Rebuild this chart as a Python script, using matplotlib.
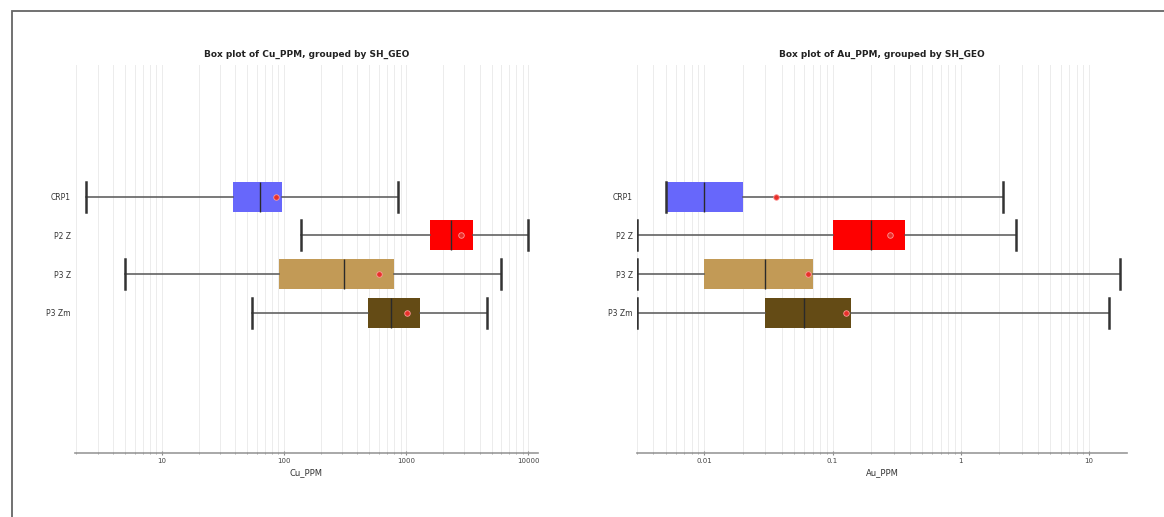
"""Box plots of Cu and Au assays grouped by geology unit (SH_GEO)."""

import matplotlib

matplotlib.use("Agg")

import matplotlib.pyplot as plt  # noqa: E402
from matplotlib.patches import Rectangle  # noqa: E402
from matplotlib.ticker import FixedLocator, LogLocator, NullFormatter  # noqa: E402

# Geology groups, top to bottom
groups = ["CRP1", "P2 Z", "P3 Z", "P3 Zm"]
colors = ["#6767fb", "#fe0000", "#c29a56", "#644b15"]

# Cu_PPM summary stats
cu_low = [2.4, 137, 5.0, 55]
cu_q1 = [38, 1560, 91, 490]
cu_med = [64, 2340, 310, 755]
cu_q3 = [97, 3520, 800, 1310]
cu_high = [860, 9900, 5950, 4600]
cu_mean = [86, 2790, 605, 1020]

# Au_PPM summary stats
au_low = [0.005, 0.003, 0.003, 0.003]
au_q1 = [0.005, 0.1, 0.01, 0.03]
au_med = [0.01, 0.2, 0.03, 0.06]
au_q3 = [0.02, 0.37, 0.07, 0.14]
au_high = [2.15, 2.7, 17.5, 14.2]
au_mean = [0.036, 0.28, 0.064, 0.128]

cu_ticks = [10, 100, 1000, 10000]
au_ticks = [0.01, 0.1, 1, 10]


def _stats(low, q1, med, q3, high, mean):
    return [
        dict(whislo=a, q1=b, med=c, q3=d, whishi=e, mean=f, fliers=[])
        for a, b, c, d, e, f in zip(low, q1, med, q3, high, mean)
    ]


def _panel(ax, stats, title, xlabel, xlim, ticks):
    art = ax.bxp(
        stats,
        positions=range(1, len(groups) + 1),
        orientation="horizontal",
        widths=0.78,
        capwidths=0.78,
        patch_artist=True,
        showmeans=True,
        manage_ticks=False,
        boxprops=dict(linewidth=0),
        medianprops=dict(color="#2a2a2a", linewidth=1.0),
        whiskerprops=dict(color="#555555", linewidth=1.1),
        capprops=dict(color="#333333", linewidth=1.8),
        meanprops=dict(marker="o", markersize=4, markerfacecolor="#e8302a",
                       markeredgecolor="#ff9a9a", markeredgewidth=0.6),
    )
    for box, col in zip(art["boxes"], colors):
        box.set_facecolor(col)
        box.set_edgecolor(col)

    ax.set_xscale("log")
    ax.set_xlim(*xlim)
    ax.set_ylim(7.63, -2.41)
    ax.xaxis.set_major_locator(FixedLocator(ticks))
    ax.set_xticklabels([f"{t:g}" for t in ticks])
    ax.xaxis.set_minor_locator(LogLocator(base=10, subs=range(2, 10), numticks=20))
    ax.xaxis.set_minor_formatter(NullFormatter())
    ax.grid(True, which="both", axis="x", color="#ececec", linewidth=0.7)
    ax.set_axisbelow(True)

    ax.set_yticks(range(1, len(groups) + 1))
    ax.set_yticklabels(groups, fontsize=5.5, color="#333333")
    ax.tick_params(axis="y", length=0, pad=3)
    ax.tick_params(axis="x", which="major", direction="inout", length=3,
                   color="#888888", labelsize=5, labelcolor="#444444", pad=2)
    ax.tick_params(axis="x", which="minor", direction="inout", length=2,
                   color="#999999")

    for side in ("top", "left", "right"):
        ax.spines[side].set_visible(False)
    ax.spines["bottom"].set_color("#999999")
    ax.spines["bottom"].set_linewidth(1.2)

    ax.set_title(title, fontsize=6.5, fontweight="bold", color="#222222", pad=6)
    ax.set_xlabel(xlabel, fontsize=6, color="#333333", labelpad=3)


fig = plt.figure(figsize=(11.64, 5.17), dpi=100)
ax_cu = fig.add_axes([0.0644, 0.1238, 0.3978, 0.7505])
ax_au = fig.add_axes([0.5473, 0.1238, 0.4210, 0.7505])

_panel(ax_cu, _stats(cu_low, cu_q1, cu_med, cu_q3, cu_high, cu_mean),
       "Box plot of Cu_PPM, grouped by SH_GEO", "Cu_PPM", (1.95, 12000), cu_ticks)
_panel(ax_au, _stats(au_low, au_q1, au_med, au_q3, au_high, au_mean),
       "Box plot of Au_PPM, grouped by SH_GEO", "Au_PPM", (0.00299, 19.8), au_ticks)

# page frame, open at the right and bottom edges
fig.add_artist(Rectangle((12 / 1164, -0.2), 1.2, 1.2 - 11 / 517 + 0.0,
                         transform=fig.transFigure, fill=False,
                         edgecolor="#666666", linewidth=1.3, clip_on=False))

fig.savefig("out.png", dpi=100)
